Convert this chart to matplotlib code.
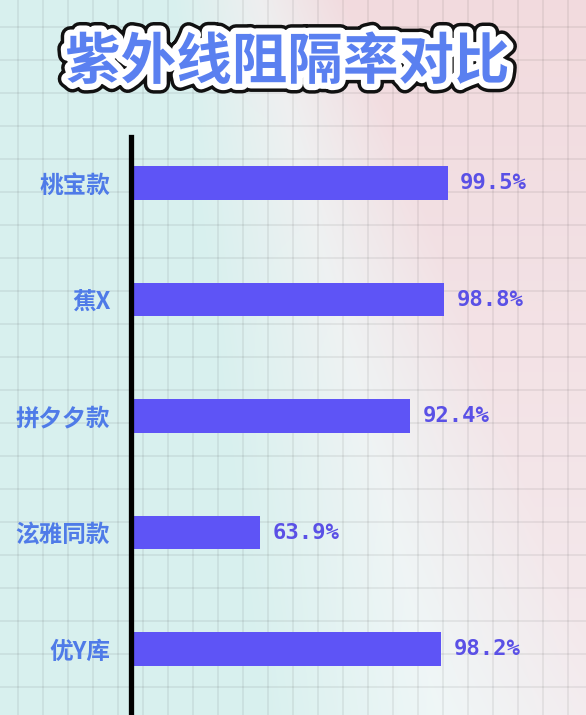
import numpy as np
import matplotlib
matplotlib.use("Agg")
import matplotlib.pyplot as plt
import matplotlib.patheffects as pe

# ---- data ----
title = "紫外线阻隔率对比"
categories = ["桃宝款", "蕉X", "拼夕夕款", "泫雅同款", "优Y库"]
values = [99.5, 98.8, 92.4, 63.9, 98.2]
value_labels = [f"{v}%" for v in values]

W, H = 586, 715
plt.rcParams['font.family'] = ['Noto Sans CJK SC', 'DejaVu Sans']

fig = plt.figure(figsize=(W / 100, H / 100), dpi=100)

# ---- background: gradient + grid paper ----
bg = fig.add_axes([0, 0, 1, 1], zorder=0)
yy, xx = np.mgrid[0:H, 0:W]
center = 260 + 0.25 * yy
width = 170 + 0.25 * yy
s = np.clip((xx - center) / width + 0.5, 0, 1)
teal = np.array([0.850, 0.943, 0.935])
pink = np.array([0.950, 0.858, 0.872])
pink_low = np.array([0.957, 0.920, 0.932])
fy = (yy / H)[..., None]
pinkc = pink * (1 - fy) + pink_low * fy
img = teal * (1 - s[..., None]) + pinkc * s[..., None]
img += 0.035 * (1 - np.abs(2 * s - 1))[..., None]
img = np.clip(img, 0, 1)
bg.imshow(img, extent=[0, W, H, 0], aspect='auto', interpolation='bilinear')
bg.vlines(np.arange(18, W, 25), 0, H, colors=[(0, 0, 0, 0.075)], lw=1.1)
bg.hlines(np.arange(27, H, 33), 0, W, colors=[(0, 0, 0, 0.075)], lw=1.1)
bg.set_xlim(0, W)
bg.set_ylim(H, 0)
bg.axis('off')

# ---- main chart ----
left_px, top_px = 131, 137
ax = fig.add_axes([left_px / W, 0, (W - left_px) / W, (H - top_px) / H], zorder=1)
ax.patch.set_alpha(0)
y = np.arange(len(categories))
ax.barh(y, values, height=0.29, color='#5E54F6', zorder=2)
ax.set_xlim(39.3, 125.8)
ax.set_ylim(4.566, -0.395)

for sp in ['top', 'right', 'bottom']:
    ax.spines[sp].set_visible(False)
ax.spines['left'].set_color('black')
ax.spines['left'].set_linewidth(3.8)
ax.spines['left'].set_zorder(3)

ax.set_xticks([])
ax.set_yticks(y, categories)
ax.tick_params(axis='y', length=0, pad=15, labelsize=17, labelcolor='#4F7BE8')
for lbl in ax.get_yticklabels():
    lbl.set_fontweight('bold')

for i, (v, lab) in enumerate(zip(values, value_labels)):
    ax.annotate(lab, (v, i), xytext=(9, 0), textcoords='offset points',
                va='center', ha='left', color='#5A50E6', fontsize=16,
                fontweight='bold', family=['DejaVu Sans Mono'])

# ---- title ----
fig.text(0.49, 0.912, title, ha='center', va='center', fontsize=40,
         fontweight='heavy', color='#5A80F0',
         path_effects=[pe.Stroke(linewidth=14, foreground='#111111'),
                       pe.Stroke(linewidth=9, foreground='white'),
                       pe.Normal()])

fig.savefig('out.png', dpi=100)
